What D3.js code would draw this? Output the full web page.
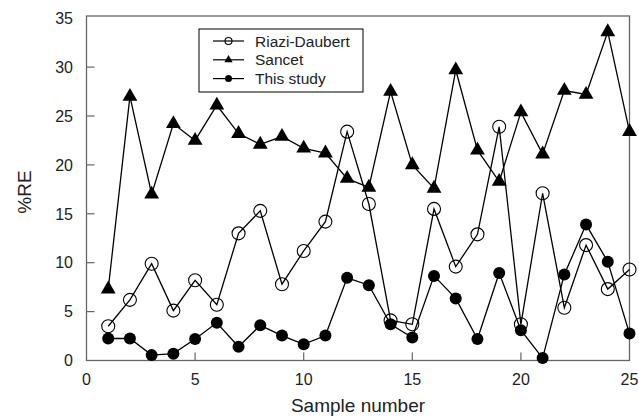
<!DOCTYPE html>
<html>
<head>
<meta charset="utf-8">
<script src="https://cdn.jsdelivr.net/npm/d3@7"></script>
<style>
  body { margin: 0; background: #fff; }
  svg { font-family: Arial, "Liberation Sans", sans-serif; }
</style>
</head>
<body>
<svg width="639" height="417"></svg>
<script>
let width = 639;
let height = 417;

let samples = d3.range(1, 26);
let riaziDaubert = [3.5, 6.2, 9.9, 5.1, 8.2, 5.7, 13.0, 15.3, 7.8, 11.2, 14.2, 23.4, 16.0, 4.1, 3.7, 15.5, 9.6, 12.9, 23.9, 3.7, 17.1, 5.4, 11.8, 7.3, 9.3];
let sancet = [7.3, 27.0, 17.0, 24.2, 22.5, 26.1, 23.2, 22.1, 22.9, 21.7, 21.2, 18.6, 17.7, 27.5, 20.0, 17.6, 29.7, 21.5, 18.3, 25.4, 21.1, 27.6, 27.2, 33.6, 23.4];
let thisStudy = [2.25, 2.25, 0.55, 0.7, 2.2, 3.85, 1.4, 3.6, 2.55, 1.65, 2.55, 8.45, 7.7, 3.7, 2.35, 8.65, 6.35, 2.2, 8.95, 3.1, 0.25, 8.8, 13.9, 10.1, 2.75];
let xTicks = [0, 5, 10, 15, 20, 25];
let yTicks = [0, 5, 10, 15, 20, 25, 30, 35];

let x = d3.scaleLinear().domain([0, 25]).range([86.5, 629.5]);
let y = d3.scaleLinear().domain([0, 35]).range([360.5, 18.2]);

let svg = d3.select('svg');
let frameColor = '#666';

// frame
svg.append('rect')
  .attr('x', x(0))
  .attr('y', 16)
  .attr('width', x(25) - x(0))
  .attr('height', y(0) - 16)
  .attr('fill', 'none')
  .attr('stroke', frameColor)
  .attr('stroke-width', 1.3)
  ;

// inward ticks
svg.append('g')
  .selectAll('line')
  .data(xTicks.filter(d => d > 0 && d < 25))
  .enter()
    .append('line')
    .attr('x1', d => x(d))
    .attr('x2', d => x(d))
    .attr('y1', y(0))
    .attr('y2', y(0) - 8)
    .attr('stroke', frameColor)
    .attr('stroke-width', 1.2)
  ;
svg.append('g')
  .selectAll('line')
  .data(yTicks.filter(d => d > 0 && d < 35))
  .enter()
    .append('line')
    .attr('x1', x(0))
    .attr('x2', x(0) + 8)
    .attr('y1', d => y(d))
    .attr('y2', d => y(d))
    .attr('stroke', frameColor)
    .attr('stroke-width', 1.2)
  ;

// tick labels
svg.append('g')
  .selectAll('text')
  .data(xTicks)
  .enter()
    .append('text')
    .attr('x', d => x(d))
    .attr('y', 385)
    .attr('text-anchor', 'middle')
    .attr('font-size', 16)
    .attr('fill', '#222')
    .text(d => d)
  ;
svg.append('g')
  .selectAll('text')
  .data(yTicks)
  .enter()
    .append('text')
    .attr('x', 73)
    .attr('y', d => y(d))
    .attr('dy', '0.36em')
    .attr('text-anchor', 'end')
    .attr('font-size', 16)
    .attr('fill', '#222')
    .text(d => d)
  ;

// axis titles
svg.append('text')
  .attr('x', (x(0) + x(25)) / 2)
  .attr('y', 412)
  .attr('text-anchor', 'middle')
  .attr('font-size', 19)
  .attr('fill', '#222')
  .text('Sample number')
  ;
svg.append('text')
  .attr('transform', 'translate(31,192) rotate(-90)')
  .attr('text-anchor', 'middle')
  .attr('font-size', 19)
  .attr('fill', '#222')
  .text('%RE')
  ;

let line = d3.line()
  .x((d, i) => x(samples[i]))
  .y(d => y(d))
  ;

let series = [
  { name: 'Riazi-Daubert', values: riaziDaubert, marker: 'open' },
  { name: 'Sancet', values: sancet, marker: 'triangle' },
  { name: 'This study', values: thisStudy, marker: 'filled' },
];

function drawMarker(g, kind, big) {
  if (kind === 'open') {
    g.append('circle')
      .attr('r', big ? 6.5 : 3.5)
      .attr('fill', 'none')
      .attr('stroke', '#000')
      .attr('stroke-width', 1.1);
  } else if (kind === 'filled') {
    g.append('circle')
      .attr('r', big ? 6 : 3.5)
      .attr('fill', '#000');
  } else {
    g.append('path')
      .attr('d', d3.symbol().type(d3.symbolTriangle).size(big ? 95 : 30)())
      .attr('fill', '#000');
  }
}

series.forEach(s => {
  let g = svg.append('g');
  g.append('path')
    .datum(s.values)
    .attr('d', line)
    .attr('fill', 'none')
    .attr('stroke', '#000')
    .attr('stroke-width', 1.3)
    ;
  g.selectAll('g')
    .data(s.values)
    .enter()
      .append('g')
      .attr('transform', (d, i) => `translate(${x(samples[i])},${y(d)})`)
      .each(function() { drawMarker(d3.select(this), s.marker, true); })
    ;
});

// legend
let legend = svg.append('g');
legend.append('rect')
  .attr('x', 199)
  .attr('y', 29)
  .attr('width', 164)
  .attr('height', 63)
  .attr('fill', '#fff')
  .attr('stroke', '#000')
  .attr('stroke-width', 1)
  ;
series.forEach((s, i) => {
  let ly = 41 + i * 18.8;
  legend.append('line')
    .attr('x1', 213)
    .attr('x2', 244)
    .attr('y1', ly)
    .attr('y2', ly)
    .attr('stroke', '#000')
    .attr('stroke-width', 1.2)
    ;
  let m = legend.append('g').attr('transform', `translate(228.5,${ly})`);
  drawMarker(m, s.marker, false);
  legend.append('text')
    .attr('x', 255)
    .attr('y', ly)
    .attr('dy', '0.36em')
    .attr('font-size', 15.5)
    .attr('fill', '#222')
    .text(s.name)
    ;
});
</script>
</body>
</html>
